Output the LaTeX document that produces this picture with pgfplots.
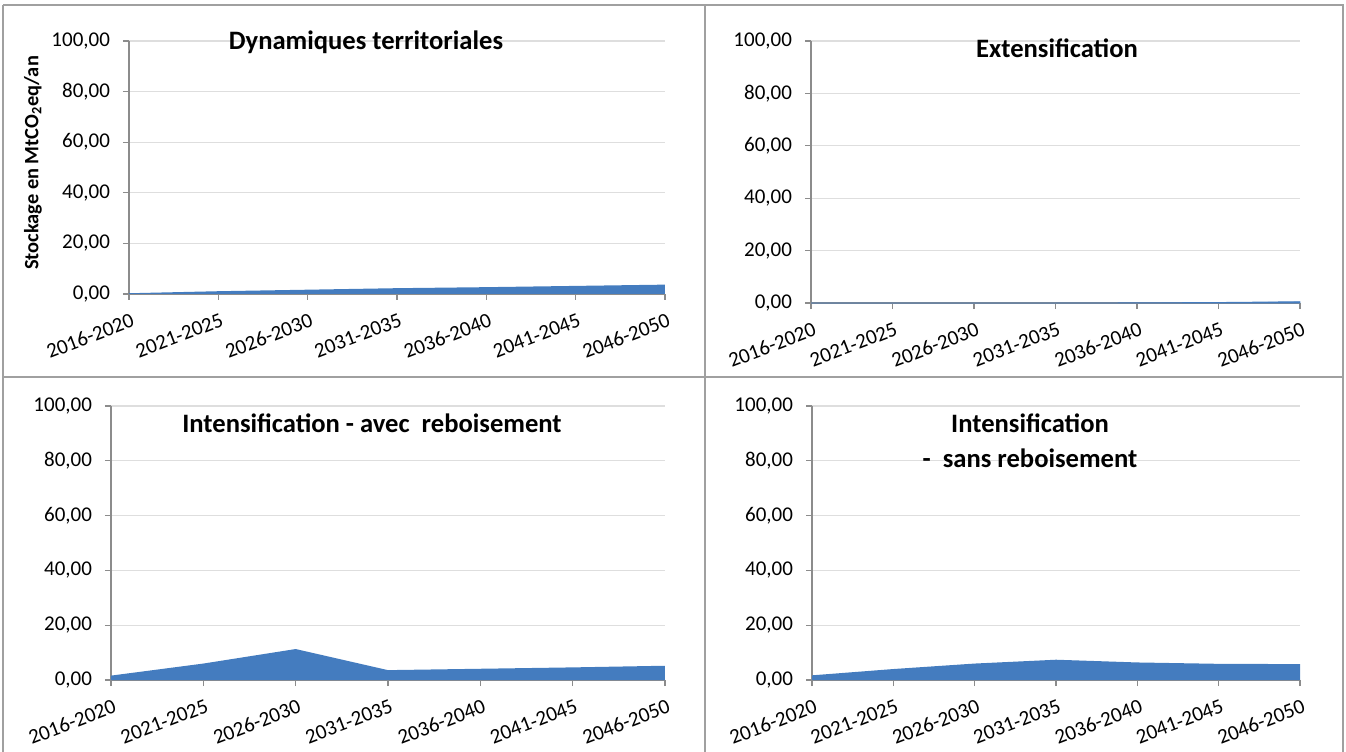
\documentclass[border=0pt]{standalone}
\usepackage{pgfplots}
\pgfplotsset{compat=1.18}
\usepackage{fontspec}
\setmainfont{Carlito}
\definecolor{areablue}{RGB}{68,124,191}
\definecolor{framegray}{RGB}{160,160,160}
\definecolor{gridgray}{RGB}{222,222,222}
\definecolor{axisgray}{RGB}{140,140,140}
\newcommand\px[2]{({#1*0.5pt},{(751-#2)*0.5pt})}
\pgfplotsset{panel/.style={
  scale only axis, anchor=south west,
  xmin=0, xmax=6, ymin=0, ymax=100,
  ytick={0,20,40,60,80,100},
  xtick={0,1,2,3,4,5,6},
  xticklabels={2016-2020,2021-2025,2026-2030,2031-2035,2036-2040,2041-2045,2046-2050},
  axis lines*=left,
  axis line style={axisgray, line width=0.6pt},
  tick style={axisgray, line width=0.6pt},
  tick align=outside, major tick length=3pt,
  ymajorgrids, major grid style={gridgray, line width=0.6pt},
  /pgf/number format/assume math mode=true,
  yticklabel style={xshift=-3pt, /pgf/number format/fixed, /pgf/number format/fixed zerofill, /pgf/number format/precision=2, /pgf/number format/use comma},
  ticklabel style={font=\fontsize{10.5}{12}\selectfont, text=black},
  xticklabel style={rotate=21, anchor=north east, inner sep=0.5pt, yshift=-5.5pt, xshift=-1pt},
  clip=false,
}}
\begin{document}
\begin{tikzpicture}
\useasboundingbox (0,0) rectangle (673pt,375.5pt);
% frame
\draw[framegray, line width=1.3pt] \px{3}{5} -- \px{1343}{5} -- \px{1343}{760};
\draw[framegray, line width=1.3pt] \px{3}{5} -- \px{3}{760};
\draw[framegray, line width=1.3pt] \px{705}{5} -- \px{705}{760};
\draw[framegray, line width=1.3pt] \px{3}{377} -- \px{1343}{377};

% top left
\begin{axis}[panel, at={(64.5pt,228.5pt)}, width=268pt, height=126.5pt]
\addplot[fill=areablue, draw=none] coordinates {(0,0.3) (1,1.1) (2,1.7) (3,2.3) (4,2.7) (5,3.2) (6,3.7)} \closedcycle;
\end{axis}
% top right
\begin{axis}[panel, at={(405.5pt,224pt)}, width=244.5pt, height=131pt]
\addplot[fill=areablue, draw=areablue, line width=0.4pt] coordinates {(0,0) (1,0) (2,0) (3,0) (4,0.05) (5,0.2) (6,0.5)} \closedcycle;
\end{axis}
% bottom left
\begin{axis}[panel, at={(55.5pt,35.5pt)}, width=277pt, height=137pt]
\addplot[fill=areablue, draw=none] coordinates {(0,1.6) (1,6.0) (2,11.3) (3,3.6) (4,4.1) (5,4.6) (6,5.2)} \closedcycle;
\end{axis}
% bottom right
\begin{axis}[panel, at={(406pt,35.5pt)}, width=244pt, height=137pt]
\addplot[fill=areablue, draw=none] coordinates {(0,1.7) (1,4.0) (2,6.0) (3,7.4) (4,6.4) (5,5.9) (6,5.8)} \closedcycle;
\end{axis}

% titles
\node[font=\fontsize{13.3}{15}\selectfont\bfseries] at \px{366}{42} {Dynamiques territoriales};
\node[font=\fontsize{13.3}{15}\selectfont\bfseries] at \px{1057}{48} {Extensification};
\node[font=\fontsize{13.3}{15}\selectfont\bfseries] at \px{372}{423} {Intensification - avec\ \ reboisement};
\node[font=\fontsize{13.3}{15}\selectfont\bfseries] at \px{1030}{423} {Intensification};
\node[font=\fontsize{13.3}{15}\selectfont\bfseries] at \px{1030}{458} {-\ \ sans reboisement};
% y label
\node[font=\fontsize{10.2}{12}\selectfont\bfseries, rotate=90] at \px{33}{163} {Stockage en MtCO\textsubscript{2}eq/an};
\end{tikzpicture}
\end{document}
